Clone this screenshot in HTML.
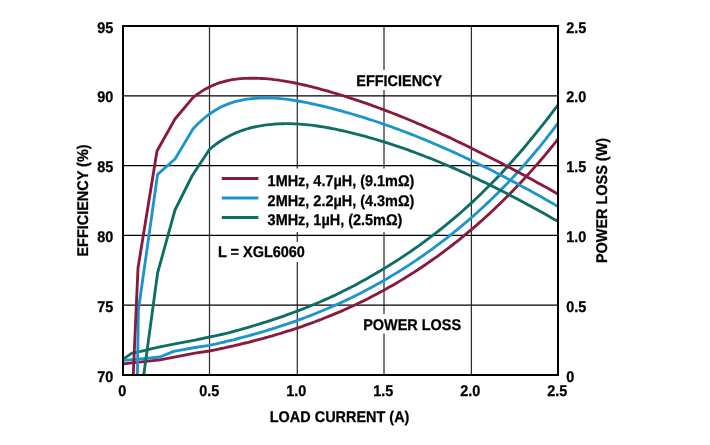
<!DOCTYPE html>
<html><head><meta charset="utf-8"><title>Efficiency and Power Loss vs Load Current</title>
<style>
html,body{margin:0;padding:0;background:#fff;}
body{width:710px;height:445px;overflow:hidden;position:relative;font-family:"Liberation Sans",sans-serif;}
</style></head><body>
<svg width="710" height="445" viewBox="0 0 710 445" style="display:block;position:absolute;left:0;top:0;will-change:transform">
<rect x="0" y="0" width="710" height="445" fill="#fff"/>
<line x1="209.5" y1="26" x2="209.5" y2="375" stroke="#2e2e2e" stroke-width="1.25"/>
<line x1="297.3" y1="26" x2="297.3" y2="375" stroke="#2e2e2e" stroke-width="1.25"/>
<line x1="384.0" y1="26" x2="384.0" y2="375" stroke="#2e2e2e" stroke-width="1.25"/>
<line x1="471.4" y1="26" x2="471.4" y2="375" stroke="#2e2e2e" stroke-width="1.25"/>
<line x1="123" y1="95.8" x2="558" y2="95.8" stroke="#000" stroke-width="1.25"/>
<line x1="123" y1="165.6" x2="558" y2="165.6" stroke="#000" stroke-width="1.25"/>
<line x1="123" y1="235.4" x2="558" y2="235.4" stroke="#000" stroke-width="1.25"/>
<line x1="123" y1="305.2" x2="558" y2="305.2" stroke="#000" stroke-width="1.25"/>
<rect x="216" y="168.5" width="200" height="63.5" fill="#fff"/>
<rect x="216" y="242" width="92" height="20" fill="#fff"/>
<rect x="354" y="70" width="92" height="20" fill="#fff"/>
<rect x="360" y="314" width="105" height="19.5" fill="#fff"/>
<g clip-path="url(#cp)">
<clipPath id="cp"><rect x="123" y="26" width="435" height="349"/></clipPath>
<path d="M122.0,360.0 L124.0,358.7 L131.9,353.1 L140.9,351.4 L151.0,348.9 L160.0,346.9 L175.0,343.8 L195.0,340.1 L209.4,337.0 L212.4,336.4 L215.4,335.8 L218.4,335.2 L221.4,334.5 L224.4,333.8 L227.4,333.1 L230.4,332.3 L233.4,331.5 L236.4,330.7 L239.4,329.9 L242.4,329.0 L245.4,328.2 L248.4,327.3 L251.4,326.4 L254.4,325.5 L257.4,324.6 L260.4,323.7 L263.4,322.7 L266.4,321.8 L269.4,320.8 L272.4,319.8 L275.4,318.8 L278.4,317.8 L281.4,316.8 L284.4,315.8 L287.4,314.7 L290.4,313.6 L293.4,312.5 L296.4,311.4 L299.4,310.3 L302.4,309.1 L305.4,308.0 L308.4,306.8 L311.4,305.5 L314.4,304.3 L317.4,303.0 L320.4,301.8 L323.4,300.4 L326.4,299.1 L329.4,297.8 L332.4,296.4 L335.4,295.0 L338.4,293.5 L341.4,292.1 L344.4,290.6 L347.4,289.1 L350.4,287.5 L353.4,286.0 L356.4,284.4 L359.4,282.7 L362.4,281.1 L365.4,279.4 L368.4,277.8 L371.4,276.0 L374.4,274.3 L377.4,272.5 L380.4,270.8 L383.4,269.0 L386.4,267.1 L389.4,265.3 L392.4,263.4 L395.4,261.5 L398.4,259.6 L401.4,257.6 L404.4,255.6 L407.4,253.6 L410.4,251.6 L413.4,249.5 L416.4,247.4 L419.4,245.3 L422.4,243.1 L425.4,240.9 L428.4,238.7 L431.4,236.4 L434.4,234.2 L437.4,231.8 L440.4,229.5 L443.4,227.1 L446.4,224.7 L449.4,222.2 L452.4,219.7 L455.4,217.2 L458.4,214.6 L461.4,212.0 L464.4,209.3 L467.4,206.6 L470.4,203.9 L473.4,201.1 L476.4,198.3 L479.4,195.4 L482.4,192.5 L485.4,189.6 L488.4,186.6 L491.4,183.6 L494.4,180.5 L497.4,177.4 L500.4,174.2 L503.4,171.0 L506.4,167.7 L509.4,164.4 L512.4,161.0 L515.4,157.6 L518.4,154.2 L521.4,150.7 L524.4,147.2 L527.4,143.6 L530.4,140.0 L533.4,136.3 L536.4,132.6 L539.4,128.9 L542.4,125.1 L545.4,121.3 L548.4,117.5 L551.4,113.6 L554.4,109.7 L557.4,105.8 L558.0,105.0" fill="none" stroke="#0e6e65" stroke-width="2.85" stroke-linejoin="round" stroke-linecap="butt"/>
<path d="M122.0,360.6 L124.0,360.4 L143.2,358.7 L160.0,357.0 L173.6,351.4 L195.0,347.5 L209.4,345.4 L212.4,344.7 L215.4,344.1 L218.4,343.4 L221.4,342.7 L224.4,342.0 L227.4,341.2 L230.4,340.5 L233.4,339.8 L236.4,339.0 L239.4,338.2 L242.4,337.4 L245.4,336.6 L248.4,335.8 L251.4,335.0 L254.4,334.2 L257.4,333.3 L260.4,332.4 L263.4,331.6 L266.4,330.7 L269.4,329.7 L272.4,328.8 L275.4,327.9 L278.4,326.9 L281.4,325.9 L284.4,324.9 L287.4,323.9 L290.4,322.9 L293.4,321.8 L296.4,320.8 L299.4,319.7 L302.4,318.6 L305.4,317.5 L308.4,316.3 L311.4,315.2 L314.4,314.0 L317.4,312.8 L320.4,311.5 L323.4,310.3 L326.4,309.0 L329.4,307.8 L332.4,306.4 L335.4,305.1 L338.4,303.8 L341.4,302.4 L344.4,301.0 L347.4,299.6 L350.4,298.2 L353.4,296.7 L356.4,295.2 L359.4,293.7 L362.4,292.2 L365.4,290.6 L368.4,289.0 L371.4,287.4 L374.4,285.8 L377.4,284.1 L380.4,282.4 L383.4,280.7 L386.4,279.0 L389.4,277.2 L392.4,275.4 L395.4,273.6 L398.4,271.8 L401.4,269.9 L404.4,268.0 L407.4,266.1 L410.4,264.1 L413.4,262.1 L416.4,260.1 L419.4,258.0 L422.4,256.0 L425.4,253.9 L428.4,251.7 L431.4,249.6 L434.4,247.4 L437.4,245.1 L440.4,242.9 L443.4,240.6 L446.4,238.3 L449.4,235.9 L452.4,233.5 L455.4,231.1 L458.4,228.7 L461.4,226.2 L464.4,223.6 L467.4,221.1 L470.4,218.5 L473.4,215.9 L476.4,213.2 L479.4,210.5 L482.4,207.7 L485.4,204.9 L488.4,202.1 L491.4,199.2 L494.4,196.3 L497.4,193.4 L500.4,190.4 L503.4,187.3 L506.4,184.3 L509.4,181.1 L512.4,177.9 L515.4,174.7 L518.4,171.4 L521.4,168.1 L524.4,164.8 L527.4,161.3 L530.4,157.8 L533.4,154.3 L536.4,150.7 L539.4,147.1 L542.4,143.3 L545.4,139.6 L548.4,135.7 L551.4,131.8 L554.4,127.8 L557.4,123.8 L558.0,123.0" fill="none" stroke="#1c95ce" stroke-width="2.85" stroke-linejoin="round" stroke-linecap="butt"/>
<path d="M122.0,364.0 L124.0,363.8 L129.6,363.2 L160.0,359.9 L195.0,353.1 L209.4,351.0 L212.4,350.4 L215.4,349.8 L218.4,349.2 L221.4,348.5 L224.4,347.9 L227.4,347.2 L230.4,346.5 L233.4,345.9 L236.4,345.2 L239.4,344.5 L242.4,343.7 L245.4,343.0 L248.4,342.3 L251.4,341.5 L254.4,340.7 L257.4,339.9 L260.4,339.1 L263.4,338.3 L266.4,337.5 L269.4,336.6 L272.4,335.8 L275.4,334.9 L278.4,334.0 L281.4,333.1 L284.4,332.2 L287.4,331.2 L290.4,330.3 L293.4,329.3 L296.4,328.3 L299.4,327.3 L302.4,326.3 L305.4,325.2 L308.4,324.1 L311.4,323.1 L314.4,322.0 L317.4,320.8 L320.4,319.7 L323.4,318.5 L326.4,317.3 L329.4,316.1 L332.4,314.9 L335.4,313.6 L338.4,312.4 L341.4,311.1 L344.4,309.7 L347.4,308.4 L350.4,307.0 L353.4,305.7 L356.4,304.2 L359.4,302.8 L362.4,301.4 L365.4,299.9 L368.4,298.4 L371.4,296.8 L374.4,295.3 L377.4,293.7 L380.4,292.1 L383.4,290.5 L386.4,288.8 L389.4,287.1 L392.4,285.4 L395.4,283.7 L398.4,281.9 L401.4,280.1 L404.4,278.3 L407.4,276.4 L410.4,274.5 L413.4,272.6 L416.4,270.7 L419.4,268.7 L422.4,266.7 L425.4,264.7 L428.4,262.6 L431.4,260.5 L434.4,258.4 L437.4,256.3 L440.4,254.1 L443.4,251.9 L446.4,249.6 L449.4,247.3 L452.4,245.0 L455.4,242.7 L458.4,240.3 L461.4,237.9 L464.4,235.4 L467.4,232.9 L470.4,230.4 L473.4,227.9 L476.4,225.3 L479.4,222.7 L482.4,220.0 L485.4,217.3 L488.4,214.6 L491.4,211.8 L494.4,209.0 L497.4,206.1 L500.4,203.2 L503.4,200.3 L506.4,197.3 L509.4,194.3 L512.4,191.2 L515.4,188.1 L518.4,185.0 L521.4,181.8 L524.4,178.6 L527.4,175.3 L530.4,171.9 L533.4,168.6 L536.4,165.1 L539.4,161.7 L542.4,158.2 L545.4,154.6 L548.4,151.0 L551.4,147.3 L554.4,143.6 L557.4,139.8 L558.0,139.1" fill="none" stroke="#8a1942" stroke-width="2.85" stroke-linejoin="round" stroke-linecap="butt"/>
<path d="M143.6,376.0 L157.6,273.0 L175.0,210.0 L192.0,176.0 L209.4,149.5 L212.4,147.0 L215.4,144.7 L218.4,142.5 L221.4,140.5 L224.4,138.7 L227.4,137.0 L230.4,135.4 L233.4,134.0 L236.4,132.6 L239.4,131.5 L242.4,130.4 L245.4,129.4 L248.4,128.5 L251.4,127.7 L254.4,127.0 L257.4,126.4 L260.4,125.9 L263.4,125.4 L266.4,124.9 L269.4,124.6 L272.4,124.3 L275.4,124.0 L278.4,123.9 L281.4,123.7 L284.4,123.7 L287.4,123.6 L290.4,123.7 L293.4,123.8 L296.4,123.9 L299.4,124.1 L302.4,124.3 L305.4,124.6 L308.4,124.9 L311.4,125.2 L314.4,125.6 L317.4,126.0 L320.4,126.5 L323.4,126.9 L326.4,127.5 L329.4,128.0 L332.4,128.6 L335.4,129.2 L338.4,129.8 L341.4,130.5 L344.4,131.2 L347.4,131.9 L350.4,132.6 L353.4,133.3 L356.4,134.1 L359.4,134.8 L362.4,135.6 L365.4,136.4 L368.4,137.3 L371.4,138.1 L374.4,139.0 L377.4,139.9 L380.4,140.8 L383.4,141.7 L386.4,142.7 L389.4,143.6 L392.4,144.6 L395.4,145.6 L398.4,146.6 L401.4,147.6 L404.4,148.7 L407.4,149.7 L410.4,150.8 L413.4,151.9 L416.4,153.0 L419.4,154.2 L422.4,155.3 L425.4,156.5 L428.4,157.6 L431.4,158.8 L434.4,160.0 L437.4,161.3 L440.4,162.5 L443.4,163.7 L446.4,165.0 L449.4,166.3 L452.4,167.6 L455.4,168.9 L458.4,170.2 L461.4,171.6 L464.4,172.9 L467.4,174.3 L470.4,175.7 L473.4,177.1 L476.4,178.5 L479.4,179.9 L482.4,181.4 L485.4,182.8 L488.4,184.3 L491.4,185.7 L494.4,187.2 L497.4,188.7 L500.4,190.2 L503.4,191.8 L506.4,193.3 L509.4,194.9 L512.4,196.4 L515.4,198.0 L518.4,199.6 L521.4,201.2 L524.4,202.8 L527.4,204.4 L530.4,206.0 L533.4,207.7 L536.4,209.3 L539.4,211.0 L542.4,212.6 L545.4,214.3 L548.4,216.0 L551.4,217.7 L554.4,219.4 L557.4,221.1 L558.0,221.5" fill="none" stroke="#0e6e65" stroke-width="2.85" stroke-linejoin="round" stroke-linecap="butt"/>
<path d="M137.4,376.0 L138.4,310.0 L157.6,174.4 L175.0,159.0 L193.0,129.0 L196.0,125.8 L199.0,122.8 L202.0,120.0 L205.0,117.5 L208.0,115.1 L211.0,113.0 L214.0,111.0 L217.0,109.2 L220.0,107.6 L223.0,106.1 L226.0,104.8 L229.0,103.7 L232.0,102.6 L235.0,101.7 L238.0,100.9 L241.0,100.3 L244.0,99.7 L247.0,99.2 L250.0,98.8 L253.0,98.5 L256.0,98.3 L259.0,98.1 L262.0,98.0 L265.0,98.0 L268.0,98.0 L271.0,98.0 L274.0,98.2 L277.0,98.4 L280.0,98.6 L283.0,98.9 L286.0,99.2 L289.0,99.6 L292.0,100.0 L295.0,100.5 L298.0,101.0 L301.0,101.5 L304.0,102.1 L307.0,102.7 L310.0,103.3 L313.0,104.0 L316.0,104.6 L319.0,105.3 L322.0,106.0 L325.0,106.7 L328.0,107.5 L331.0,108.2 L334.0,109.0 L337.0,109.8 L340.0,110.6 L343.0,111.4 L346.0,112.3 L349.0,113.1 L352.0,114.0 L355.0,114.9 L358.0,115.8 L361.0,116.7 L364.0,117.6 L367.0,118.6 L370.0,119.6 L373.0,120.5 L376.0,121.5 L379.0,122.5 L382.0,123.6 L385.0,124.6 L388.0,125.7 L391.0,126.7 L394.0,127.8 L397.0,128.9 L400.0,130.0 L403.0,131.1 L406.0,132.3 L409.0,133.4 L412.0,134.6 L415.0,135.8 L418.0,137.0 L421.0,138.2 L424.0,139.4 L427.0,140.7 L430.0,141.9 L433.0,143.2 L436.0,144.5 L439.0,145.8 L442.0,147.1 L445.0,148.4 L448.0,149.7 L451.0,151.0 L454.0,152.4 L457.0,153.8 L460.0,155.2 L463.0,156.5 L466.0,158.0 L469.0,159.4 L472.0,160.8 L475.0,162.2 L478.0,163.7 L481.0,165.2 L484.0,166.6 L487.0,168.1 L490.0,169.6 L493.0,171.1 L496.0,172.7 L499.0,174.2 L502.0,175.7 L505.0,177.3 L508.0,178.9 L511.0,180.4 L514.0,182.0 L517.0,183.6 L520.0,185.2 L523.0,186.9 L526.0,188.5 L529.0,190.1 L532.0,191.8 L535.0,193.4 L538.0,195.1 L541.0,196.8 L544.0,198.5 L547.0,200.2 L550.0,201.9 L553.0,203.6 L556.0,205.4 L558.0,206.5" fill="none" stroke="#1c95ce" stroke-width="2.85" stroke-linejoin="round" stroke-linecap="butt"/>
<path d="M133.2,376.0 L138.0,268.0 L157.0,151.0 L175.0,119.0 L193.0,97.6 L196.0,95.2 L199.0,93.1 L202.0,91.1 L205.0,89.3 L208.0,87.7 L211.0,86.2 L214.0,84.9 L217.0,83.7 L220.0,82.7 L223.0,81.8 L226.0,81.0 L229.0,80.3 L232.0,79.7 L235.0,79.3 L238.0,78.9 L241.0,78.6 L244.0,78.4 L247.0,78.3 L250.0,78.2 L253.0,78.2 L256.0,78.2 L259.0,78.3 L262.0,78.5 L265.0,78.7 L268.0,78.9 L271.0,79.2 L274.0,79.6 L277.0,79.9 L280.0,80.4 L283.0,80.8 L286.0,81.3 L289.0,81.8 L292.0,82.4 L295.0,83.0 L298.0,83.6 L301.0,84.3 L304.0,85.0 L307.0,85.7 L310.0,86.4 L313.0,87.2 L316.0,87.9 L319.0,88.7 L322.0,89.6 L325.0,90.4 L328.0,91.2 L331.0,92.1 L334.0,93.0 L337.0,93.9 L340.0,94.8 L343.0,95.7 L346.0,96.6 L349.0,97.6 L352.0,98.6 L355.0,99.6 L358.0,100.6 L361.0,101.6 L364.0,102.6 L367.0,103.7 L370.0,104.7 L373.0,105.8 L376.0,106.9 L379.0,108.0 L382.0,109.1 L385.0,110.2 L388.0,111.4 L391.0,112.5 L394.0,113.7 L397.0,114.9 L400.0,116.1 L403.0,117.3 L406.0,118.5 L409.0,119.8 L412.0,121.0 L415.0,122.3 L418.0,123.6 L421.0,124.8 L424.0,126.1 L427.0,127.5 L430.0,128.8 L433.0,130.1 L436.0,131.4 L439.0,132.8 L442.0,134.2 L445.0,135.5 L448.0,136.9 L451.0,138.3 L454.0,139.7 L457.0,141.2 L460.0,142.6 L463.0,144.0 L466.0,145.5 L469.0,146.9 L472.0,148.4 L475.0,149.9 L478.0,151.4 L481.0,152.9 L484.0,154.4 L487.0,155.9 L490.0,157.4 L493.0,159.0 L496.0,160.5 L499.0,162.0 L502.0,163.6 L505.0,165.2 L508.0,166.7 L511.0,168.3 L514.0,169.9 L517.0,171.5 L520.0,173.1 L523.0,174.7 L526.0,176.3 L529.0,178.0 L532.0,179.6 L535.0,181.2 L538.0,182.9 L541.0,184.5 L544.0,186.2 L547.0,187.8 L550.0,189.5 L553.0,191.2 L556.0,192.9 L558.0,194.0" fill="none" stroke="#8a1942" stroke-width="2.85" stroke-linejoin="round" stroke-linecap="butt"/>
</g>
<rect x="123" y="26" width="435" height="349" fill="none" stroke="#000" stroke-width="2"/>
<line x1="221.8" y1="178.5" x2="258.4" y2="178.5" stroke="#8a1942" stroke-width="3"/>
<line x1="221.8" y1="198.1" x2="258.4" y2="198.1" stroke="#1c95ce" stroke-width="3"/>
<line x1="221.8" y1="217.5" x2="258.4" y2="217.5" stroke="#0e6e65" stroke-width="3"/>
<g font-family="Liberation Sans, sans-serif" font-weight="bold" font-size="15.5px" fill="#000" stroke="#000" stroke-width="0.28" style="text-rendering:geometricPrecision">
<text transform="translate(267.6,185.7) scale(0.932,1)" text-anchor="start">1MHz, 4.7µH, (9.1mΩ)</text>
<text transform="translate(267.6,205.6) scale(0.932,1)" text-anchor="start">2MHz, 2.2µH, (4.3mΩ)</text>
<text transform="translate(267.6,225.4) scale(0.932,1)" text-anchor="start">3MHz, 1µH, (2.5mΩ)</text>
<text transform="translate(218,257) scale(0.932,1)" text-anchor="start">L = XGL6060</text>
<text transform="translate(356.3,85.8) scale(0.932,1)" text-anchor="start">EFFICIENCY</text>
<text transform="translate(363.2,329.8) scale(0.932,1)" text-anchor="start">POWER LOSS</text>
<text transform="translate(113.3,33.0) scale(0.932,1)" text-anchor="end">95</text>
<text transform="translate(113.3,101.9) scale(0.932,1)" text-anchor="end">90</text>
<text transform="translate(113.3,171.9) scale(0.932,1)" text-anchor="end">85</text>
<text transform="translate(113.3,241.7) scale(0.932,1)" text-anchor="end">80</text>
<text transform="translate(113.3,311.8) scale(0.932,1)" text-anchor="end">75</text>
<text transform="translate(113.3,382.1) scale(0.932,1)" text-anchor="end">70</text>
<text transform="translate(566.2,32.6) scale(0.932,1)" text-anchor="start">2.5</text>
<text transform="translate(566.2,101.9) scale(0.932,1)" text-anchor="start">2.0</text>
<text transform="translate(566.2,171.9) scale(0.932,1)" text-anchor="start">1.5</text>
<text transform="translate(566.2,241.7) scale(0.932,1)" text-anchor="start">1.0</text>
<text transform="translate(566.2,311.8) scale(0.932,1)" text-anchor="start">0.5</text>
<text transform="translate(566.2,381.8) scale(0.932,1)" text-anchor="start">0</text>
<text transform="translate(122.2,395.7) scale(0.932,1)" text-anchor="middle">0</text>
<text transform="translate(209.2,395.7) scale(0.932,1)" text-anchor="middle">0.5</text>
<text transform="translate(296.2,395.7) scale(0.932,1)" text-anchor="middle">1.0</text>
<text transform="translate(383.2,395.7) scale(0.932,1)" text-anchor="middle">1.5</text>
<text transform="translate(470.2,395.7) scale(0.932,1)" text-anchor="middle">2.0</text>
<text transform="translate(557.2,395.7) scale(0.932,1)" text-anchor="middle">2.5</text>
<text transform="translate(339.6,421.8) scale(0.932,1)" text-anchor="middle">LOAD CURRENT (A)</text>
<text transform="translate(88.3,200.5) rotate(-90) scale(0.932,1)" text-anchor="middle">EFFICIENCY (%)</text>
<text transform="translate(607.2,200.5) rotate(-90) scale(0.932,1)" text-anchor="middle">POWER LOSS (W)</text>
</g>
</svg>
</body></html>
